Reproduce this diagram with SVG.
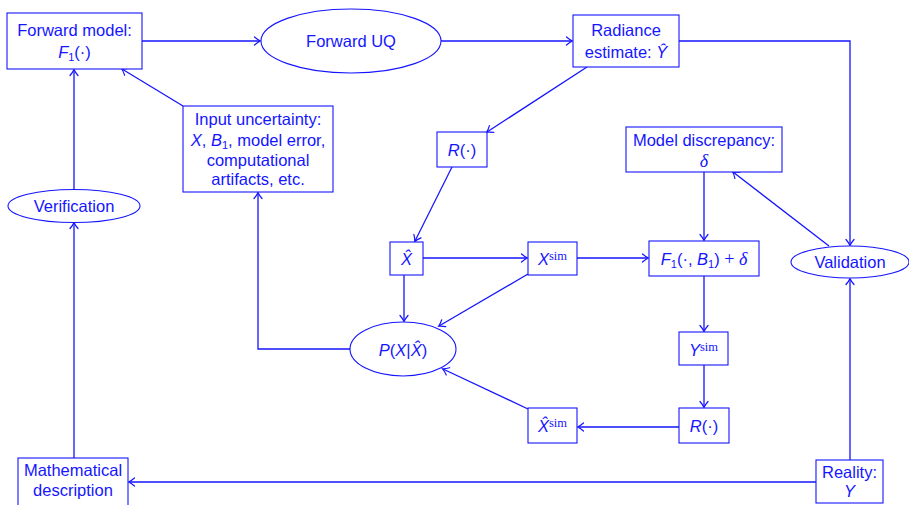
<svg xmlns="http://www.w3.org/2000/svg" width="909" height="505" viewBox="0 0 909 505">
  <defs>
    <marker id="arr" viewBox="-7 -5 9 10" refX="0" refY="0" markerWidth="9" markerHeight="10" markerUnits="userSpaceOnUse" orient="auto">
      <path d="M-5.5,-4 Q-2,-1 0.5,0 Q-2,1 -5.5,4" fill="none" stroke="#1515ff" stroke-width="1.2" stroke-linecap="round"/>
    </marker>
  </defs>
  <style>
    .box { fill: #ffffff; stroke: #1515ff; stroke-width: 1.1; }
    .edge { fill: none; stroke: #1515ff; stroke-width: 1.3; marker-end: url(#arr); }
    text { font-family: "Liberation Sans", Arial, sans-serif; font-size: 16.5px; fill: #1515ff; text-anchor: middle; }
    .it { font-style: italic; }
    .rm { font-family: "Liberation Serif", "Times New Roman", serif; font-size: 18px; }
    .sub { font-size: 11px; }
    .sup { font-family: "Liberation Serif", "Times New Roman", serif; font-size: 12.5px; }
  </style>

  <rect width="909" height="505" fill="#ffffff"/>

  <!-- connectors -->
  <g id="connectors">
    <path class="edge" d="M142,41 H260"/>
    <path class="edge" d="M441,41 H572"/>
    <path class="edge" d="M679,41 H850 V245"/>
    <path class="edge" d="M587,67 L487,132"/>
    <path class="edge" d="M452,167 L415,241"/>
    <path class="edge" d="M423,258 H527"/>
    <path class="edge" d="M577,258 H648"/>
    <path class="edge" d="M704,172 V240"/>
    <path class="edge" d="M829,246 L733,172"/>
    <path class="edge" d="M704,276 V331"/>
    <path class="edge" d="M704,365 V407"/>
    <path class="edge" d="M679,427 H578"/>
    <path class="edge" d="M528,409 L443,369"/>
    <path class="edge" d="M528,274 L439,326"/>
    <path class="edge" d="M404,275 V321"/>
    <path class="edge" d="M350,349 H258 V193"/>
    <path class="edge" d="M183,106 L122,69"/>
    <path class="edge" d="M74,189 V70"/>
    <path class="edge" d="M74,458 V223"/>
    <path class="edge" d="M816,482 H129"/>
    <path class="edge" d="M850,460 V279"/>
  </g>

  <!-- nodes -->
  <g id="forward-model">
    <rect class="box" x="7" y="13" width="135" height="56"/>
    <text x="74.5" y="36">Forward model:</text>
    <text x="74.5" y="58"><tspan class="it">F</tspan><tspan class="sub" dy="3">1</tspan><tspan dy="-3">(·)</tspan></text>
  </g>

  <g id="forward-uq">
    <ellipse class="box" cx="351" cy="41" rx="90" ry="32"/>
    <text x="351" y="47">Forward UQ</text>
  </g>

  <g id="radiance-estimate">
    <rect class="box" x="573" y="15" width="106" height="52"/>
    <text x="626" y="36">Radiance</text>
    <text x="626" y="58">estimate: <tspan class="it">Ŷ</tspan></text>
  </g>

  <g id="input-uncertainty">
    <rect class="box" x="183" y="106" width="150" height="86"/>
    <text x="258" y="125">Input uncertainty:</text>
    <text x="258" y="146"><tspan class="it">X</tspan>, <tspan class="it">B</tspan><tspan class="sub" dy="3">1</tspan><tspan dy="-3">, model error,</tspan></text>
    <text x="258" y="166">computational</text>
    <text x="258" y="185">artifacts, etc.</text>
  </g>

  <g id="readout-1">
    <rect class="box" x="437" y="132" width="50" height="35"/>
    <text x="462" y="156"><tspan class="it">R</tspan>(·)</text>
  </g>

  <g id="model-discrepancy">
    <rect class="box" x="626" y="127" width="156" height="45"/>
    <text x="704" y="146">Model discrepancy:</text>
    <text x="704" y="167" class="rm it">δ</text>
  </g>

  <g id="verification">
    <ellipse class="box" cx="74" cy="206" rx="66" ry="16.5"/>
    <text x="74" y="212">Verification</text>
  </g>

  <g id="x-hat">
    <rect class="box" x="390" y="242" width="33" height="33"/>
    <text x="406.5" y="265" class="it">X̂</text>
  </g>

  <g id="x-sim">
    <rect class="box" x="528" y="242" width="49" height="33"/>
    <text x="552.5" y="265"><tspan class="it">X</tspan><tspan class="sup" dy="-5">sim</tspan></text>
  </g>

  <g id="forward-plus-discrepancy">
    <rect class="box" x="649" y="241" width="110" height="35"/>
    <text x="704" y="265"><tspan class="it">F</tspan><tspan class="sub" dy="3">1</tspan><tspan dy="-3">(·, </tspan><tspan class="it">B</tspan><tspan class="sub" dy="3">1</tspan><tspan dy="-3">) </tspan><tspan class="rm">+ </tspan><tspan class="rm it">δ</tspan></text>
  </g>

  <g id="validation">
    <ellipse class="box" cx="850" cy="262" rx="59" ry="16"/>
    <text x="850" y="268">Validation</text>
  </g>

  <g id="posterior">
    <ellipse class="box" cx="403" cy="349" rx="53" ry="27"/>
    <text x="403" y="356"><tspan class="it">P</tspan>(<tspan class="it">X</tspan>|<tspan class="it">X̂</tspan>)</text>
  </g>

  <g id="y-sim">
    <rect class="box" x="679" y="332" width="49" height="33"/>
    <text x="703.5" y="356"><tspan class="it">Y</tspan><tspan class="sup" dy="-5">sim</tspan></text>
  </g>

  <g id="readout-2">
    <rect class="box" x="679" y="408" width="50" height="35"/>
    <text x="704" y="432"><tspan class="it">R</tspan>(·)</text>
  </g>

  <g id="x-hat-sim">
    <rect class="box" x="528" y="408" width="49" height="35"/>
    <text x="552.5" y="432"><tspan class="it">X̂</tspan><tspan class="sup" dy="-5">sim</tspan></text>
  </g>

  <g id="mathematical-description">
    <rect class="box" x="18" y="458" width="110" height="52"/>
    <text x="73" y="476">Mathematical</text>
    <text x="73" y="496">description</text>
  </g>

  <g id="reality">
    <rect class="box" x="816" y="460" width="67" height="43"/>
    <text x="849.5" y="478">Reality:</text>
    <text x="849.5" y="497" class="it">Y</text>
  </g>
</svg>
